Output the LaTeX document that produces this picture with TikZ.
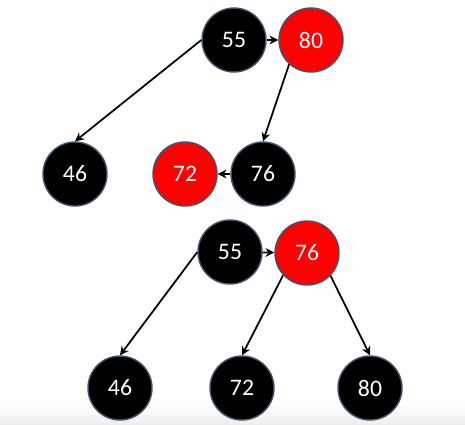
\documentclass[tikz,border=0pt]{standalone}
\usepackage{fontspec}
\setmainfont{Carlito}
\usetikzlibrary{arrows.meta}
\definecolor{rbRed}{HTML}{FF0000}
\definecolor{rbEdge}{HTML}{41546A}
\tikzset{
	blk/.style={circle, draw=rbEdge, line width=0.8pt, fill=black, text=white, minimum size=1.28cm, inner sep=0, font=\fontsize{13.5}{13.5}\selectfont},
	rd/.style={blk, fill=rbRed}
}
\begin{document}
\begin{tikzpicture}[x=0.02cm, y=-0.02cm, -{Stealth[length=5pt,width=5pt]}, line width=1pt]
\useasboundingbox (0,0) rectangle (465,424);
\shade[top color=white, bottom color=black!7, draw=none] (0,404) rectangle (465,424);
% before rotation
\node[blk] (a55) at (234, 40) {55};
\node[rd] (a80) at (311, 40) {80};
\node[blk] (a46) at (75, 174) {46};
\node[rd] (a72) at (185, 174) {72};
\node[blk] (a76) at (263, 174) {76};
\path (a55) edge (a80);
\path (a55.west) edge (a46.north);
\path (a80.-132) edge (a76.north);
\path (a76) edge (a72);
% after rotation
\node[blk] (b55) at (230, 252) {55};
\node[rd] (b76) at (307, 253) {76};
\node[blk] (b46) at (120, 388) {46};
\node[blk] (b72) at (242, 388) {72};
\node[blk] (b80) at (370, 388) {80};
\path (b55) edge (b76);
\path (b55.west) edge (b46.north);
\path (b76.-137) edge (b72.north);
\path (b76.-44) edge (b80.north);
\end{tikzpicture}
\end{document}
